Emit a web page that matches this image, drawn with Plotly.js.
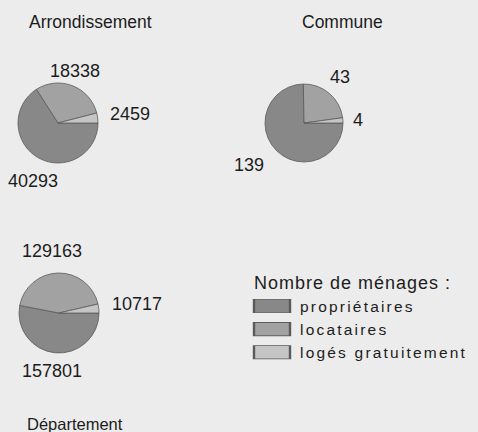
<!DOCTYPE html>
<html>
<head>
<meta charset="utf-8">
<script src="https://cdn.plot.ly/plotly-3.0.1.min.js"></script>
<style>
html,body{margin:0;padding:0;background:#ececec;}
#chart{width:478px;height:432px;}
#chart .legendtext{letter-spacing:2.2px;}
#chart .legendtitletext{letter-spacing:1px;}
#chart .legend *{clip-path:none !important;}
#chart path.legendpie{transform:translate(20px,0px) scale(3,1.1);}
</style>
</head>
<body>
<div id="chart"></div>
<script>
// Categories (legend order)
const categories = ["propriétaires", "locataires", "logés gratuitement"];
// Values per area, same order as categories
const arrondissement = [40293, 18338, 2459];
const commune = [139, 43, 4];
const departement = [157801, 129163, 10717];
const areaTitles = ["Arrondissement", "Commune", "Département"];
const legendTitle = "Nombre de ménages :";

// ---- styling / layout (not data) ----
const colors = ["#888888", "#a2a2a2", "#c5c5c5"];
const W = 478, H = 432;
// pie centres and radii in pixels
const pieGeom = [[58, 123, 40], [304, 123, 39], [59, 313, 40]];
// value label centres in pixels, per pie, in category order
const labelPos = [
  [[33, 181], [75, 71], [130, 114]],
  [[249, 165], [340, 77], [358, 120]],
  [[52, 371], [52, 251], [137, 304]]
];
const titlePos = [[90, 22], [342, 22], [75, 424]];

function dom(g) {
  const [cx, cy, r] = g;
  return { x: [(cx - r) / W, (cx + r) / W], y: [(H - cy - r) / H, (H - cy + r) / H] };
}
const ff = "Liberation Sans, Arial, sans-serif";
const txt = "#1c1c1c";
function pie(values, g) {
  return {
    type: "pie", labels: categories, values: values, domain: dom(g),
    sort: false, direction: "clockwise", rotation: 90,
    textinfo: "none", hoverinfo: "none",
    marker: { colors: colors, line: { color: "#5a5a5a", width: 0.8 } }
  };
}
const series = [arrondissement, commune, departement];
const data = series.map((v, i) => pie(v, pieGeom[i]));

const annotations = [];
series.forEach((vals, i) => {
  vals.forEach((v, j) => {
    annotations.push({
      text: String(v), x: labelPos[i][j][0] / W, y: 1 - labelPos[i][j][1] / H,
      xref: "paper", yref: "paper", xanchor: "center", yanchor: "middle",
      showarrow: false, font: { family: ff, size: 18, color: txt }
    });
  });
});
areaTitles.forEach((t, i) => {
  annotations.push({
    text: t, x: titlePos[i][0] / W, y: 1 - titlePos[i][1] / H,
    xref: "paper", yref: "paper", xanchor: "center", yanchor: "middle",
    showarrow: false, font: { family: ff, size: i === 2 ? 16.5 : 17.5, color: txt }
  });
});

const layout = {
  width: W, height: H,
  margin: { l: 0, r: 0, t: 0, b: 0 },
  paper_bgcolor: "#ececec", plot_bgcolor: "#ececec",
  font: { family: ff, size: 15.5, color: txt },
  showlegend: true,
  legend: {
    x: 252 / W, y: 1 - 266 / H, xanchor: "left", yanchor: "top",
    bgcolor: "rgba(0,0,0,0)", itemgap: 0, traceorder: "normal", itemwidth: 38,
    title: { text: legendTitle, font: { family: ff, size: 18, color: txt }, side: "top" },
    font: { family: ff, size: 15.5, color: txt }, itemclick: false
  },
  annotations: annotations
};
Plotly.newPlot("chart", data, layout, { staticPlot: true });
</script>
</body>
</html>
